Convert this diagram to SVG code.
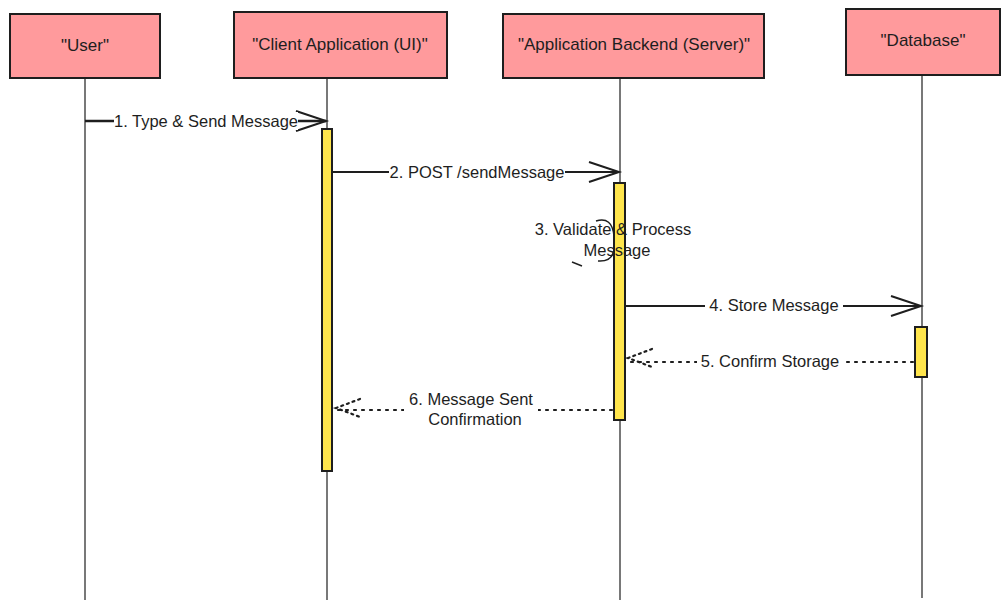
<svg xmlns="http://www.w3.org/2000/svg" width="1007" height="610" viewBox="0 0 1007 610">
<style>
.box{fill:#ff9a9c;stroke:#1e1e1e;stroke-width:2}
.boxt{font-family:"Liberation Sans",sans-serif;font-size:17px;fill:#1e1e1e;text-anchor:middle}
.life{stroke:#1e1e1e;stroke-width:1.2;fill:none}
.act{fill:#ffe54c;stroke:#1e1e1e;stroke-width:2}
.msg{stroke:#1e1e1e;stroke-width:2;fill:none}
.dot{stroke:#1e1e1e;stroke-width:2.2;fill:none;stroke-dasharray:2 6;stroke-linecap:round}
.lbl{font-family:"Liberation Sans",sans-serif;font-size:16.5px;fill:#1e1e1e;text-anchor:middle}
</style>
<rect width="1007" height="610" fill="#ffffff"/>
<g id="lifelines">
<line class="life" x1="85" y1="78" x2="85" y2="600"/>
<line class="life" x1="327" y1="78" x2="327" y2="600"/>
<line class="life" x1="620" y1="78" x2="620" y2="600"/>
<line class="life" x1="922" y1="76" x2="922" y2="598"/>
</g>
<g id="user"><rect class="box" x="10" y="14" width="150" height="64"/><text class="boxt" x="85" y="51">"User"</text></g>
<g id="client"><rect class="box" x="234" y="12" width="213" height="66"/><text class="boxt" x="340" y="50">"Client Application (UI)"</text></g>
<g id="backend"><rect class="box" x="503" y="14" width="261" height="64"/><text class="boxt" x="634" y="50">"Application Backend (Server)"</text></g>
<g id="database"><rect class="box" x="846" y="9" width="154" height="66"/><text class="boxt" x="923" y="46">"Database"</text></g>
<g id="activations">
<rect class="act" x="322" y="129" width="10" height="342"/>
<rect class="act" x="614" y="183" width="11" height="237"/>
<rect class="act" x="915" y="327" width="12" height="50"/>
</g>
<g id="connectors">
<line class="msg" x1="85" y1="121" x2="326" y2="121" style="stroke-width:2.5"/>
<polyline class="msg" points="296,111 326,121 296,131"/>
<line class="msg" x1="332" y1="172" x2="619" y2="172"/>
<polyline class="msg" points="589,162 619,172 589,182"/>
<path class="msg" d="M596,221 Q 612,216 614,236 M598,261 Q 612,262 614,250" style="stroke-width:1.5"/>
<line class="msg" x1="572" y1="262" x2="582" y2="266" style="stroke-width:1.5"/>
<line class="msg" x1="625" y1="306" x2="921" y2="306"/>
<polyline class="msg" points="891,296 921,306 891,316"/>
<line class="dot" x1="913" y1="362" x2="630" y2="362"/>
<polyline class="dot" points="652,349 628,358 652,367" style="stroke-dasharray:2 4"/>
<line class="dot" x1="612" y1="410" x2="337" y2="410"/>
<polyline class="dot" points="360,399 336,408 360,417" style="stroke-dasharray:2 4"/>
</g>
<g id="labels">
<rect x="114" y="112" width="184" height="18" fill="#ffffff"/>
<text class="lbl" x="206" y="127">1. Type &amp; Send Message</text>
<rect x="389" y="163" width="176" height="18" fill="#ffffff"/>
<text class="lbl" x="477" y="178">2. POST /sendMessage</text>
<text class="lbl" x="613" y="235">3. Validate &amp; Process</text>
<text class="lbl" x="617" y="256">Message</text>
<rect x="705" y="297" width="138" height="18" fill="#ffffff"/>
<text class="lbl" x="774" y="311">4. Store Message</text>
<rect x="697" y="353" width="147" height="18" fill="#ffffff"/>
<text class="lbl" x="770" y="367">5. Confirm Storage</text>
<rect x="404" y="391" width="134" height="38" fill="#ffffff"/>
<text class="lbl" x="471" y="405">6. Message Sent</text>
<text class="lbl" x="475" y="425">Confirmation</text>
</g>
</svg>
